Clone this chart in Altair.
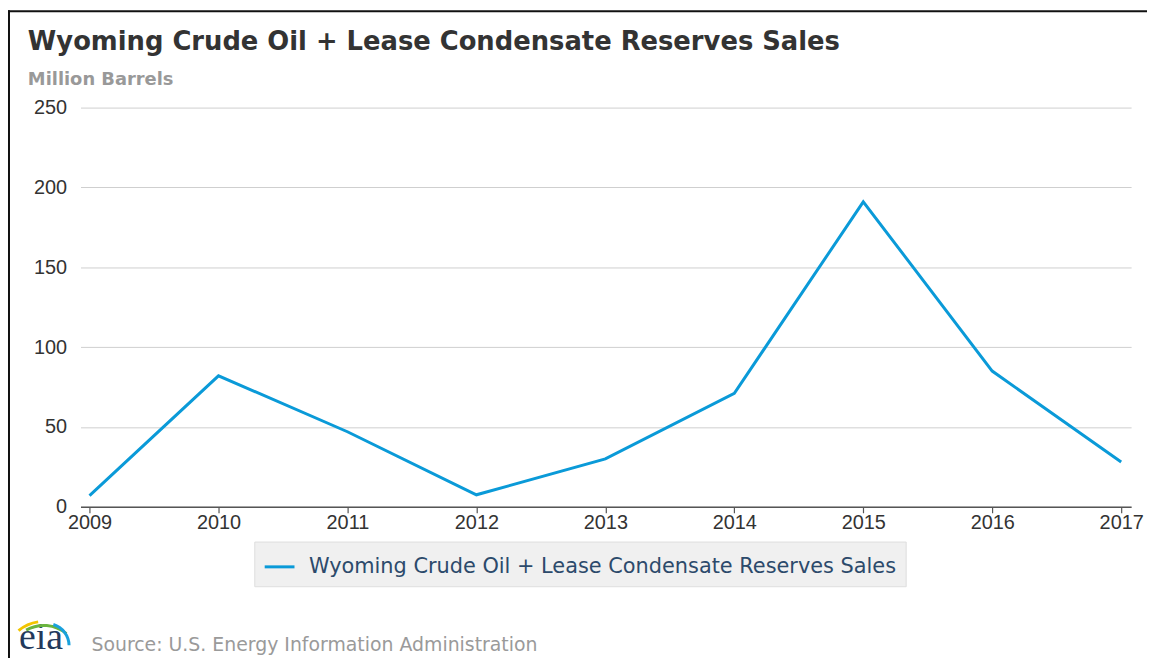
import altair as alt
import pandas as pd

years = [2009, 2010, 2011, 2012, 2013, 2014, 2015, 2016, 2017]
values = [7, 82, 47, 7.5, 30, 71, 191, 85, 28]
series_name = "Wyoming Crude Oil + Lease Condensate Reserves Sales"
y_ticks = [0, 50, 100, 150, 200, 250]
title_text = "Wyoming Crude Oil + Lease Condensate Reserves Sales"
subtitle_text = "Million Barrels"
source_text = "Source: U.S. Energy Information Administration"

df = pd.DataFrame({"year": years, "value": values, "series": [series_name] * len(years)})
note = pd.DataFrame({"t": [source_text]})

W, H = 1058, 402
PL, PT = 73, 98

line = alt.Chart(df).mark_line(strokeWidth=3).encode(
    x=alt.X("year:Q",
            scale=alt.Scale(domain=[2008.93, 2017.077], nice=False, zero=False),
            axis=alt.Axis(values=years, format="d", title=None, grid=False,
                          domainColor="#555", domainWidth=1.5, tickColor="#555",
                          tickWidth=1.2, tickSize=6, labelFont="Liberation Sans",
                          labelFontSize=20, labelColor="#333", labelPadding=0)),
    y=alt.Y("value:Q",
            scale=alt.Scale(domain=[0, 250], nice=False),
            axis=alt.Axis(values=y_ticks, title=None, domain=False, ticks=False,
                          gridColor="#cfcfcf", gridWidth=1, labelFont="Liberation Sans",
                          labelFontSize=20, labelColor="#333", labelPadding=14)),
    color=alt.Color("series:N",
                    scale=alt.Scale(range=["#0a9ad8"]),
                    legend=alt.Legend(title=None, orient="none", legendX=175, legendY=437,
                                      fillColor="#f0f0f0", strokeColor="#dedede",
                                      padding=9, symbolType="stroke", symbolSize=900,
                                      symbolStrokeWidth=3, labelFont="DejaVu Sans",
                                      labelFontSize=21, labelColor="#2c4a6b",
                                      labelOffset=13, labelLimit=800)),
)

source = alt.Chart(note).mark_text(align="left", baseline="alphabetic", font="DejaVu Sans",
                                   fontSize=19, color="#9a9a9a").encode(
    text="t:N", x=alt.value(11), y=alt.value(547))

logo = alt.Chart(note).mark_text(align="left", baseline="alphabetic", font="Liberation Serif",
                                 fontSize=38, color="#23395b").encode(
    text=alt.value("eia"), x=alt.value(-62), y=alt.value(545))

arc_y = alt.Chart(note).mark_arc(radius=41, radius2=38, theta=5.585, theta2=6.14,
                                 color="#f2c500").encode(x=alt.value(-37), y=alt.value(557))
arc_g = alt.Chart(note).mark_arc(radius=37, radius2=34, theta=5.76, theta2=6.98,
                                 color="#6ab43e").encode(x=alt.value(-37), y=alt.value(557))
arc_b = alt.Chart(note).mark_arc(radius=24, radius2=21, theta=0.3, theta2=1.55,
                                 color="#1aa1dc").encode(x=alt.value(-34), y=alt.value(542))

border_top = alt.Chart(note).mark_rule(color="#111", strokeWidth=2).encode(
    x=alt.value(-PL), x2=alt.value(W + 30), y=alt.value(-PT + 1))
border_left = alt.Chart(note).mark_rule(color="#111", strokeWidth=2).encode(
    x=alt.value(-PL + 1), y=alt.value(-PT), y2=alt.value(600))

chart = alt.layer(line, source, logo, arc_y, arc_g, arc_b, border_top, border_left).properties(
    width=W, height=H,
    title=alt.TitleParams(text=title_text, subtitle=subtitle_text, anchor="start",
                          frame="group", dx=-53, dy=88, offset=8,
                          font="DejaVu Sans", fontSize=26, fontWeight="bold", color="#333",
                          subtitleFont="DejaVu Sans", subtitleFontSize=18,
                          subtitleFontWeight="bold", subtitleColor="#999",
                          subtitlePadding=16),
    autosize=alt.AutoSizeParams(type="none"),
    padding={"left": PL, "top": PT, "right": 16, "bottom": 150},
    background="white",
).configure_view(stroke=None)

chart.save("out.html", embed_options={"renderer": "svg", "actions": False})
